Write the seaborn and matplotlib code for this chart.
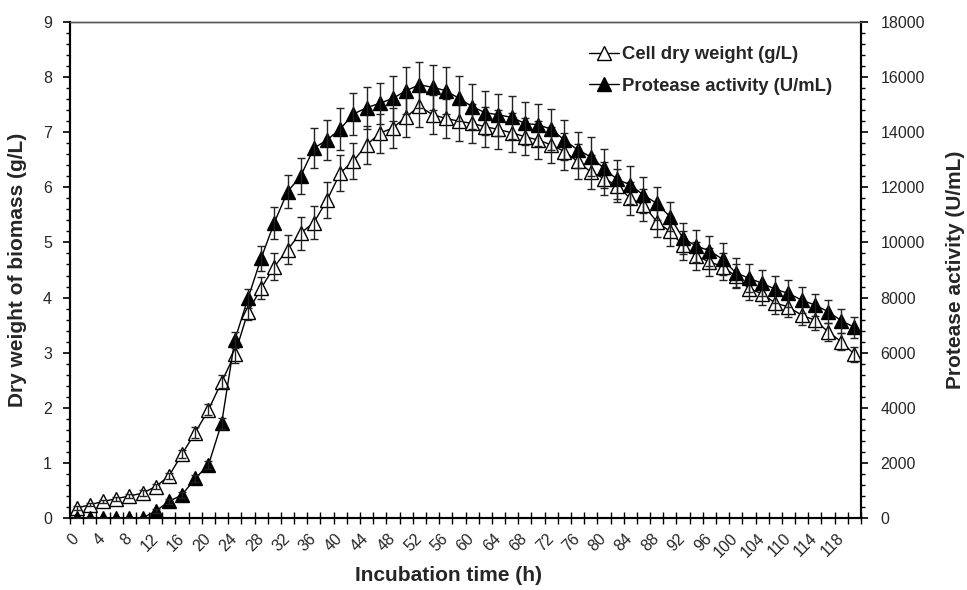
import numpy as np
import pandas as pd
import matplotlib
matplotlib.use("Agg")
import matplotlib.pyplot as plt
import seaborn as sns
from matplotlib.ticker import MultipleLocator, FixedLocator
from matplotlib.lines import Line2D

# ---------------- data ----------------
times = [0, 2, 4, 6, 8, 10, 12, 14, 16, 18, 20, 22, 24, 26, 28, 30, 32, 34, 36, 38,
         40, 42, 44, 46, 48, 50, 52, 54, 56, 58, 60, 62, 64, 66, 68, 70, 72, 74, 76, 78,
         80, 82, 84, 86, 88, 90, 92, 94, 96, 98, 100, 102, 104, 108, 110, 112, 114, 116, 118, 120]

cdw = [0.18, 0.24, 0.30, 0.35, 0.40, 0.45, 0.57, 0.76, 1.16, 1.55,
       1.96, 2.47, 2.97, 3.74, 4.17, 4.56, 4.87, 5.17, 5.36, 5.77,
       6.26, 6.48, 6.77, 6.98, 7.08, 7.28, 7.47, 7.32, 7.25, 7.20,
       7.16, 7.10, 7.05, 6.99, 6.92, 6.86, 6.77, 6.65, 6.47, 6.28,
       6.16, 6.03, 5.80, 5.68, 5.38, 5.20, 4.95, 4.75, 4.65, 4.56,
       4.39, 4.16, 4.07, 3.90, 3.83, 3.68, 3.59, 3.38, 3.20, 2.97]

cdw_err = [0.03, 0.03, 0.03, 0.04, 0.04, 0.05, 0.05, 0.06, 0.08, 0.10,
           0.10, 0.12, 0.15, 0.15, 0.20, 0.25, 0.27, 0.30, 0.30, 0.32,
           0.33, 0.33, 0.35, 0.35, 0.36, 0.37, 0.38, 0.36, 0.36, 0.36,
           0.35, 0.36, 0.36, 0.35, 0.34, 0.34, 0.33, 0.33, 0.32, 0.31,
           0.30, 0.30, 0.30, 0.29, 0.28, 0.27, 0.26, 0.25, 0.25, 0.24,
           0.22, 0.21, 0.20, 0.20, 0.19, 0.18, 0.17, 0.16, 0.15, 0.14]

protease = [0, 0, 0, 0, 0, 0, 250, 600, 840, 1440,
            1920, 3440, 6460, 7970, 9430, 10720, 11840, 12410, 13420, 13720,
            14120, 14660, 14890, 15050, 15230, 15510, 15720, 15630, 15510, 15230,
            14930, 14710, 14630, 14540, 14320, 14270, 14110, 13720, 13360, 13110,
            12690, 12290, 12090, 11720, 11420, 10940, 10150, 9870, 9700, 9390,
            8900, 8700, 8520, 8300, 8150, 7910, 7730, 7490, 7160, 6920]

protease_err = [0, 0, 0, 0, 0, 0, 60, 80, 100, 120,
                150, 200, 300, 350, 450, 580, 600, 660, 720, 720,
                750, 750, 760, 750, 810, 840, 840, 810, 840, 810,
                820, 800, 760, 780, 780, 760, 740, 720, 660, 700,
                700, 700, 700, 640, 600, 540, 560, 580, 540, 580,
                520, 500, 480, 480, 480, 460, 400, 420, 440, 380]

label_cdw = "Cell dry weight (g/L)"
label_pro = "Protease activity (U/mL)"

# ---------------- style ----------------
sns.set_style("ticks")
plt.rcParams["font.family"] = ["Liberation Sans", "DejaVu Sans"]

pos = np.arange(len(times))
df = pd.DataFrame({"pos": pos, "cdw": cdw, "protease": protease})

fig = plt.figure(figsize=(9.67, 5.9), dpi=100)
ax = fig.add_axes([70 / 967, 72 / 590, (861 - 70) / 967, (518 - 22) / 590])
ax2 = ax.twinx()

# cell dry weight (left axis)
sns.lineplot(data=df, x="pos", y="cdw", ax=ax, color="black", lw=1,
             marker="^", markersize=9.5, markerfacecolor="white",
             markeredgecolor="black", markeredgewidth=1, legend=False, zorder=3)
ax.errorbar(pos, cdw, yerr=cdw_err, fmt="none", ecolor="#222222",
            elinewidth=1, capsize=3, capthick=1, zorder=4)

# protease activity (right axis)
sns.lineplot(data=df, x="pos", y="protease", ax=ax2, color="black", lw=1,
             marker="^", markersize=9.5, markerfacecolor="black",
             markeredgecolor="black", markeredgewidth=1, legend=False, zorder=3)
ax2.errorbar(pos, protease, yerr=protease_err, fmt="none", ecolor="#222222",
             elinewidth=1, capsize=3, capthick=1, zorder=4)

# axes limits / ticks
ax.set_xlim(-0.5, len(times) - 0.5)
ax.set_ylim(0, 9)
ax2.set_ylim(0, 18000)

ax.set_xticks(pos[::2])
ax.set_xticklabels([str(t) for t in times[::2]], rotation=45, ha="right",
                   va="center", rotation_mode="anchor", fontsize=11.5)
ax.xaxis.set_minor_locator(FixedLocator(np.arange(-0.5, len(times), 1)))
ax.tick_params(axis="x", which="major", length=0, pad=13)
ax.tick_params(axis="x", which="minor", direction="inout", length=8, width=1, color="black")

ax.yaxis.set_major_locator(MultipleLocator(1))
ax.yaxis.set_minor_locator(MultipleLocator(0.2))
ax.tick_params(axis="y", which="major", direction="out", length=5, width=1.2,
               labelsize=11.5, pad=8, color="black")
ax.tick_params(axis="y", which="minor", direction="out", length=3, width=1, color="black")

ax2.yaxis.set_major_locator(MultipleLocator(2000))
ax2.yaxis.set_minor_locator(MultipleLocator(400))
ax2.tick_params(axis="y", which="major", direction="out", length=5, width=1.2,
                labelsize=11.5, pad=9, color="black")
ax2.tick_params(axis="y", which="minor", direction="out", length=3, width=1, color="black")

ax.set_xlabel("")
ax.set_ylabel("")
ax2.set_xlabel("")

for a in (ax, ax2):
    for s in ("left", "right", "bottom"):
        a.spines[s].set_color("black")
        a.spines[s].set_linewidth(1.5)
    a.spines["top"].set_color("#555555")
    a.spines["top"].set_linewidth(1.0)

# axis labels
ax.set_xlabel("Incubation time (h)", fontsize=15, fontweight="bold")
ax.xaxis.set_label_coords(0.478, -0.115)
ax.xaxis.label.set_va("center")

ax.set_ylabel("Dry weight of biomass (g/L)", fontsize=15, fontweight="bold")
ax.yaxis.set_label_coords(-0.066, 0.5)
ax.yaxis.label.set_va("center")

ax2.set_ylabel(label_pro, fontsize=15, fontweight="bold", rotation=90)
ax2.yaxis.set_label_coords(1.12, 0.5)
ax2.yaxis.label.set_va("center")
ax2.yaxis.label.set_ha("center")

# legend
handles = [
    Line2D([], [], color="black", lw=1, marker="^", markersize=9.5,
           markerfacecolor="white", markeredgecolor="black"),
    Line2D([], [], color="black", lw=1, marker="^", markersize=9.5,
           markerfacecolor="black", markeredgecolor="black"),
]
ax2.legend(handles, [label_cdw, label_pro], loc="upper left",
           bbox_to_anchor=(580 / 967, 1 - 37 / 590), bbox_transform=fig.transFigure,
           frameon=False, borderpad=0, handlelength=1.6, handletextpad=0.2,
           labelspacing=0.78, prop={"weight": "bold", "size": 13.3})

fig.savefig("out.png", dpi=100)
